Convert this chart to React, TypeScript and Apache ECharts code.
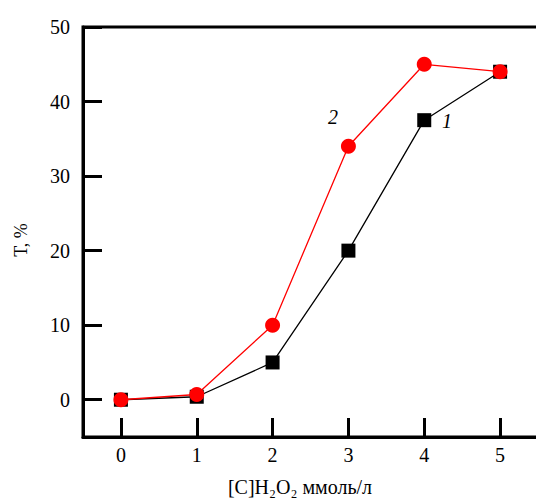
import React, { useEffect, useRef } from "react";
import * as echarts from "echarts";

const xValues = [0, 1, 2, 3, 4, 5];
const series1 = [0, 0.4, 5, 20, 37.5, 44];
const series2 = [0, 0.7, 10, 34, 45, 44];
const seriesNames = ["1", "2"];
const yTitle = "T, %";
const xTitle = "[C]H\u2082O\u2082 ммоль/л";

const FONT = "'Liberation Serif', 'DejaVu Serif', 'Times New Roman', serif";
const X_MIN = -0.5;
const X_MAX = 5.5;
const Y_MIN = -5;
const Y_MAX = 50;

export default function App() {
  const ref = useRef<HTMLDivElement>(null);
  useEffect(() => {
    if (!ref.current) return;
    const chart = echarts.init(ref.current, undefined, { renderer: "svg" });
    const d1 = series1.map((v, i) => [xValues[i], v]);
    const d2 = series2.map((v, i) => [xValues[i], v]);
    const txt = (text: string, x: number, y: number, size: number, italic: boolean, rotation = 0) => ({
      type: "text",
      x,
      y,
      rotation,
      style: {
        text,
        fontFamily: FONT,
        fontSize: size,
        fontStyle: italic ? "italic" : "normal",
        fill: "#000",
        align: "center",
        verticalAlign: "middle",
      },
    });
    chart.setOption({
      animation: false,
      backgroundColor: "#fff",
      textStyle: { fontFamily: FONT },
      grid: {
        left: 83,
        top: 27,
        right: -2,
        bottom: 65,
        containLabel: false,
        outerBoundsMode: "none",
        show: true,
        borderColor: "#000",
        borderWidth: 3,
        backgroundColor: "transparent",
      },
      graphic: [
        txt(yTitle, 21, 240, 18, false, Math.PI / 2),
        txt(xTitle, 300, 487, 20, false),
        txt(seriesNames[1], 333, 117, 20, true),
        txt(seriesNames[0], 447, 121, 20, true),
      ],
      xAxis: {
        type: "value",
        min: X_MIN,
        max: X_MAX,
        axisLine: { show: true, onZero: false, lineStyle: { color: "#000", width: 3 } },
        axisTick: { show: true, inside: true, length: 19, lineStyle: { color: "#000", width: 3 } },
        axisLabel: {
          show: true,
          fontSize: 20,
          color: "#000",
          formatter: (v: number) => (v < 0 || v > 5 ? "" : String(v)),
        },
        splitLine: { show: false },
      },
      yAxis: {
        type: "value",
        min: Y_MIN,
        max: Y_MAX,
        axisLine: { show: true, onZero: false, lineStyle: { color: "#000", width: 3 } },
        axisTick: { show: true, inside: true, length: 19, lineStyle: { color: "#000", width: 3 } },
        axisLabel: {
          show: true,
          margin: 13,
          fontSize: 20,
          color: "#000",
          formatter: (v: number) => (v < 0 ? "" : String(v)),
        },
        splitLine: { show: false },
      },
      series: [
        {
          name: seriesNames[0],
          type: "line",
          data: d1,
          symbol: "rect",
          symbolSize: 14,
          lineStyle: { color: "#000", width: 1.3 },
          itemStyle: { color: "#000" },
        },
        {
          name: seriesNames[1],
          type: "line",
          data: d2,
          symbol: "circle",
          symbolSize: 15,
          lineStyle: { color: "#ff0000", width: 1.3 },
          itemStyle: { color: "#ff0000" },
        },
      ],
    });
    return () => chart.dispose();
  }, []);
  return (
    <div
      ref={ref}
      style={{ position: "fixed", left: 0, top: 0, width: 536, height: 502, background: "#fff" }}
    />
  );
}
